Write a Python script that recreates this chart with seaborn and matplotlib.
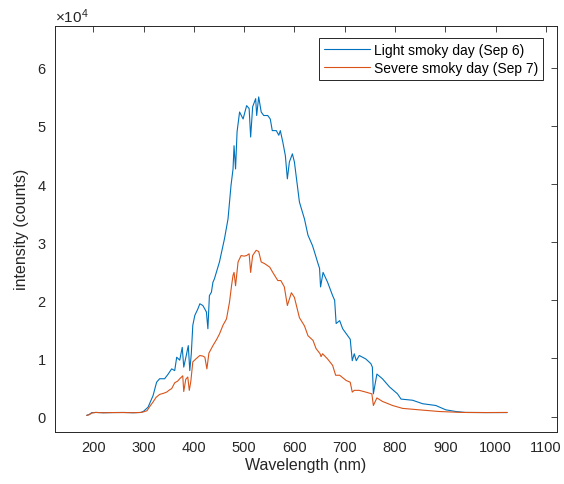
import matplotlib
matplotlib.use("Agg")
import matplotlib.pyplot as plt
import seaborn as sns
import pandas as pd
from matplotlib.ticker import ScalarFormatter, MultipleLocator

# ---- data ----
light_nm = [187, 192, 197, 205, 220, 240, 260, 280, 295, 300, 309, 319, 326, 332, 342, 349,
            356, 362, 366, 372, 377, 380, 385, 389, 392, 395, 398, 402, 408, 412, 418, 425,
            428, 431, 435, 438, 441, 451, 461, 468, 474, 478, 480, 483, 486, 491, 498, 505,
            510, 513, 517, 523, 525, 529, 534, 539, 547, 552, 556, 564, 569, 572, 577, 582,
            586, 590, 596, 600, 610, 620, 627, 636, 640, 647, 650, 652, 657, 666, 676, 680,
            683, 690, 696, 706, 711, 715, 719, 723, 729, 742, 752, 755, 757, 764, 775, 789,
            805, 812, 835, 855, 881, 901, 921, 940, 980, 1023]
light_counts = [200, 350, 650, 700, 650, 680, 700, 650, 700, 900, 1600, 3600, 5900, 6500, 6500, 7300,
                8200, 7900, 10200, 9700, 11900, 8500, 10500, 12200, 7900, 10800, 15700, 17400, 18500, 19400, 19100, 18000,
                15100, 20800, 21400, 23100, 23700, 26600, 30600, 34000, 39800, 42600, 46600, 42600, 49000, 52400, 51200, 53500,
                53000, 48100, 53300, 54700, 51800, 55000, 52400, 51800, 51800, 51200, 49200, 49200, 48400, 49200, 47200, 44900,
                40900, 43800, 45200, 43800, 36900, 34000, 31200, 29400, 28300, 26300, 25500, 22300, 24800, 23100, 20800, 20000,
                16000, 16500, 15100, 13900, 13300, 9600, 10800, 9600, 10500, 9900, 9100, 8500, 3900, 7300, 6500, 5100,
                3900, 3000, 2800, 2200, 1900, 1150, 860, 700, 680, 680]

severe_nm = [187, 192, 197, 205, 220, 240, 260, 280, 295, 300, 307, 313, 319, 325, 332, 340,
             346, 352, 356, 362, 368, 372, 378, 380, 384, 388, 391, 394, 398, 404, 412, 418,
             422, 426, 430, 438, 445, 451, 458, 465, 471, 475, 478, 480, 483, 488, 494, 500,
             505, 510, 513, 517, 524, 529, 534, 541, 551, 557, 567, 573, 580, 586, 594, 600,
             610, 620, 627, 637, 643, 651, 653, 656, 666, 676, 682, 690, 703, 711, 715, 719,
             729, 742, 754, 757, 764, 775, 795, 815, 848, 888, 934, 980, 1023]
severe_counts = [200, 300, 600, 700, 650, 680, 680, 660, 700, 800, 1000, 1800, 2500, 3300, 3800, 4000,
                 4200, 4600, 4800, 5800, 6100, 6500, 7000, 4300, 6400, 6800, 4500, 6000, 9400, 9900, 10500, 10400,
                 10200, 8200, 10900, 12200, 13200, 14200, 15700, 16800, 19700, 22500, 24300, 24800, 22500, 26600, 27700, 27600,
                 27700, 28000, 24800, 27700, 28600, 28400, 26600, 26300, 25700, 24800, 23400, 23400, 22300, 19100, 21300, 20500,
                 17000, 15600, 13900, 13100, 11700, 10800, 10300, 10800, 9900, 8800, 7100, 7100, 6200, 5900, 4200, 4500,
                 4500, 4200, 3900, 1900, 3200, 2600, 1900, 1400, 1150, 860, 700, 680, 700]

labels = ["Light smoky day (Sep 6)", "Severe smoky day (Sep 7)"]
x_ticks = [200, 300, 400, 500, 600, 700, 800, 900, 1000, 1100]

df = pd.concat([
    pd.DataFrame({"Wavelength": light_nm, "Intensity": light_counts, "Series": labels[0]}),
    pd.DataFrame({"Wavelength": severe_nm, "Intensity": severe_counts, "Series": labels[1]}),
], ignore_index=True)

sns.set_style("white")
plt.rcParams["font.family"] = ["Liberation Sans", "DejaVu Sans"]
plt.rcParams["mathtext.fontset"] = "custom"
plt.rcParams["mathtext.rm"] = "Liberation Sans"
plt.rcParams["mathtext.it"] = "Liberation Sans"
plt.rcParams["mathtext.bf"] = "Liberation Sans"

dark = "#262626"
fig = plt.figure(figsize=(5.64, 4.85), dpi=100)
ax = fig.add_axes([0.0975, 0.108, 0.89, 0.8363])

sns.lineplot(data=df, x="Wavelength", y="Intensity", hue="Series", sort=False,
             palette=["#0072BD", "#D95319"], linewidth=0.8, ax=ax, estimator=None)

ax.set_xlim(124, 1122)
ax.set_ylim(-2600, 67200)
ax.set_xticks(x_ticks)
ax.yaxis.set_major_locator(MultipleLocator(10000))
fmt = ScalarFormatter(useMathText=True)
fmt.set_powerlimits((4, 4))
ax.yaxis.set_major_formatter(fmt)
ax.yaxis.get_offset_text().set_fontsize(11)
ax.yaxis.get_offset_text().set_color(dark)

ax.tick_params(direction="in", length=4, width=0.6, top=True, right=True,
               labelsize=10.5, colors=dark, pad=6)
for s in ax.spines.values():
    s.set_color(dark)
    s.set_linewidth(0.7)

ax.set_xlabel("Wavelength (nm)", fontsize=11.5, color=dark, labelpad=2)
ax.set_ylabel("intensity (counts)", fontsize=11.5, color=dark, labelpad=6)

leg = ax.legend(loc="upper right", bbox_to_anchor=(0.972, 0.97), fontsize=10,
                frameon=True, fancybox=False, framealpha=1, edgecolor=dark,
                handlelength=3.3, handletextpad=0.3, borderpad=0.35, labelspacing=0.3,
                borderaxespad=0)
leg.get_frame().set_linewidth(0.7)
for t in leg.get_texts():
    t.set_color("black")

fig.savefig("out.png", dpi=100)
